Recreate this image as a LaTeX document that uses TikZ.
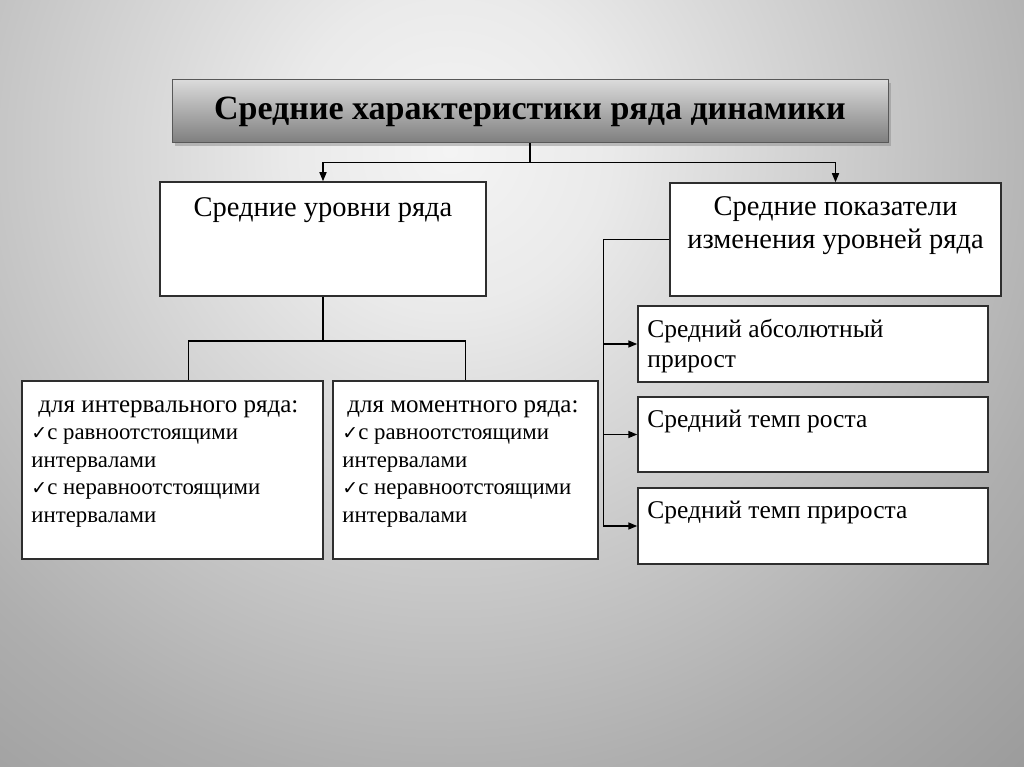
\documentclass[tikz,border=0pt]{standalone}
\usepackage{fontspec}
\setmainfont{Liberation Serif}
\newfontfamily\symfnt{DejaVu Sans}
\usetikzlibrary{calc,positioning,shadows,arrows.meta}
\definecolor{bgin}  {HTML}{F4F4F4}
\definecolor{bgmid} {HTML}{EAEAEA}
\definecolor{bgsoft}{HTML}{D6D6D6}
\definecolor{bgout} {HTML}{C2C2C2}
\definecolor{bgdark}{HTML}{AEAEAE}
\definecolor{bgedge}{HTML}{9C9C9C}
\definecolor{bgrim} {HTML}{929292}
\definecolor{ttltop}{HTML}{DADADA}
\definecolor{ttlbot}{HTML}{7E7E7E}
\definecolor{plline}{HTML}{2E2E2E}
\pgfdeclareradialshading{bgglow}{\pgfpoint{0bp}{0bp}}%
  {color(0bp)=(bgin); color(4bp)=(bgmid); color(8bp)=(bgsoft); color(12bp)=(bgout);
   color(16bp)=(bgdark); color(21bp)=(bgedge); color(27bp)=(bgrim); color(50bp)=(bgrim)}
\newcommand{\chk}{{\symfnt\bfseries\fontsize{19}{19}\selectfont ✓}}
\tikzset{
  box/.style={draw=plline, line width=1.5pt, fill=white, inner sep=0pt},
  txt/.style={inner sep=0pt},
  ttlbox/.style={draw=plline!80, line width=1pt, top color=ttltop, bottom color=ttlbot,
    drop shadow={shadow xshift=3pt, shadow yshift=-3pt, fill=black!45}},
  lnk/.style={line width=1.5pt},
  arr/.style={lnk, -{Triangle[length=9pt,width=7pt]}}
}

\begin{document}
\begin{tikzpicture}[x=1pt, y=-1pt, every node/.style={font=\fontsize{28.5}{33}\selectfont}]
  \begin{scope}
    \clip (0,0) rectangle (1024,767);
    \shade[shading=bgglow] (-550,-850) rectangle (1450,1150);
  \end{scope}
  \useasboundingbox (0,0) rectangle (1024,767);

  \node[ttlbox, minimum width=716pt, minimum height=63pt,
    font=\fontsize{34}{38}\selectfont\bfseries] (ttl) at (530,111.5)
    {Средние характеристики ряда динамики};

  \node[box, minimum width=326pt, minimum height=114pt] (lvl) at (323,239) {};
  \node[box, minimum width=331pt, minimum height=113pt] (chg) at (835.5,239.5) {};
  \node[box, minimum width=301pt, minimum height=178pt] (intv) at (172.5,470) {};
  \node[box, minimum width=265pt, minimum height=178pt] (mom) at (465.5,470) {};
  \node[box, minimum width=350pt, minimum height=76pt] (abs) at (813,344) {};
  \node[box, minimum width=350pt, minimum height=75pt] (rate) at (813,434.5) {};
  \node[box, minimum width=350pt, minimum height=76pt] (grw) at (813,526) {};

  \node[txt, anchor=base] (lvl-t) at ($(lvl.north)+(0,35)$) {Средние уровни ряда};
  \node[txt, anchor=north, align=center] (chg-t)
    at ($(chg.north)+(0,14)$) {Средние показатели\\изменения уровней ряда};
  \node[txt, anchor=north west, align=left, font=\fontsize{25.5}{29.5}\selectfont] (abs-t)
    at ($(abs.north west)+(10,14)$) {Средний абсолютный\\прирост};
  \node[txt, anchor=base west, font=\fontsize{25.5}{29.5}\selectfont] (rate-t)
    at ($(rate.north west)+(10,31)$) {Средний темп роста};
  \node[txt, anchor=base west, font=\fontsize{25.5}{29.5}\selectfont] (grw-t)
    at ($(grw.north west)+(10,31)$) {Средний темп прироста};
  \node[txt, anchor=north west, align=left, font=\fontsize{22.8}{27.5}\selectfont] (intv-t)
    at ($(intv.north west)+(10,20)$)
    {{\fontsize{25}{27.5}\selectfont\hspace*{7pt}для интервального ряда:}\\
     \chk с равноотстоящими\\интервалами\\\chk с неравноотстоящими\\интервалами};
  \node[txt, anchor=north west, align=left, font=\fontsize{22.8}{27.5}\selectfont] (mom-t)
    at ($(mom.north west)+(10,20)$)
    {{\fontsize{25}{27.5}\selectfont\hspace*{5pt}для моментного ряда:}\\
     \chk с равноотстоящими\\интервалами\\\chk с неравноотстоящими\\интервалами};

  \draw[lnk] (ttl.south) -- ++(0,19) coordinate (split);
  \draw[arr] (split) -| (lvl.north);
  \draw[arr] (split) -| (chg.north);

  \draw[lnk] (lvl.south) -- ++(0,44) coordinate (fork);
  \draw[lnk] (fork) -| ($(intv.north)+(16,0)$);
  \draw[lnk] (fork) -| (mom.north);

  \draw[lnk] (chg.west) -- ++(-66,0) coordinate (rail);
  \draw[arr] (rail) |- (abs.west);
  \draw[arr] (rail) |- (rate.west);
  \draw[arr] (rail) |- (grw.west);
\end{tikzpicture}
\end{document}
